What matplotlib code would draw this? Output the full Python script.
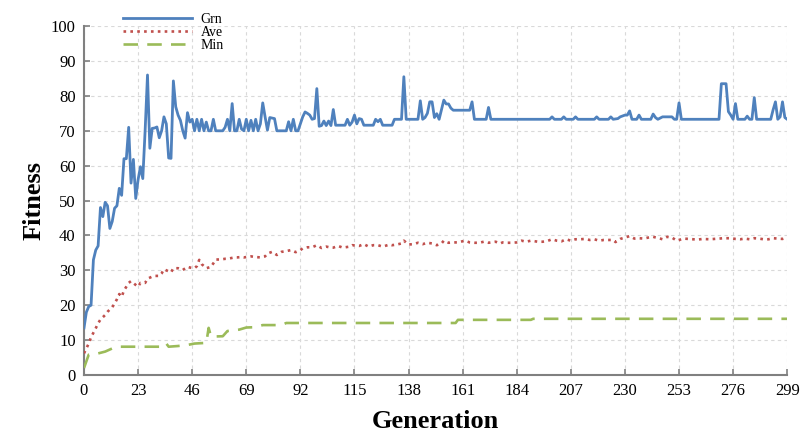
import matplotlib
matplotlib.use("Agg")
import matplotlib.pyplot as plt

# generation / value vertices
grn_gen = [0, 1, 2, 3, 4, 5, 6, 7, 8, 9, 10, 11, 12, 13, 14, 15, 16, 17, 18, 19,
           20, 21, 22, 23, 24, 25, 26, 27, 28, 29, 30, 31, 32, 33, 34, 35, 36, 37, 38, 39,
           40, 41, 42, 43, 44, 45, 46, 47, 48, 49, 50, 51, 52, 53, 54, 55, 56, 59, 60, 61,
           62, 63, 64, 65, 66, 67, 68, 69, 70, 71, 72, 73, 74, 75, 76, 77, 78, 79, 81, 82,
           86, 87, 88, 89, 90, 91, 92, 93, 94, 95, 96, 97, 98, 99, 100, 101, 102, 103, 104, 105,
           106, 107, 111, 112, 113, 114, 115, 116, 117, 118, 119, 123, 124, 125, 126, 127, 131, 132, 135, 136,
           137, 142, 143, 144, 145, 146, 147, 148, 149, 150, 151, 152, 153, 154, 155, 156, 157, 164, 165, 166,
           171, 172, 173, 198, 199, 200, 203, 204, 205, 208, 209, 210, 217, 218, 219, 223, 224, 225, 227, 228,
           230, 231, 232, 233, 235, 236, 237, 241, 242, 243, 244, 246, 250, 251, 252, 253, 254, 270, 271, 273,
           274, 275, 276, 277, 278, 281, 282, 283, 284, 285, 286, 292, 293, 294, 295, 296, 297, 298, 299]
grn_val = [13.5, 18, 19.6, 20, 33, 35.8, 37, 48, 45.4, 49.5, 48.5, 42, 44, 47.8, 48.5, 53.5, 51.5, 62, 62, 71,
           55, 61.8, 50.6, 56, 59.7, 56.3, 70.2, 86, 65, 70.7, 70.8, 71.1, 68, 70, 74, 72,
           62.2, 62.1, 84.3, 76.9, 74.5, 73, 70, 67.9, 75.2, 72.5, 73.3, 70, 73.3, 70, 73.3, 70, 72.5, 70, 70, 73.3,
           70, 70, 71, 73.3,
           70, 77.8, 70, 70, 73.3, 70.5, 70, 73.3, 70, 73, 70, 73.3, 70, 72, 78, 74, 70.2, 73.8, 73.5, 70,
           70, 72.6, 70, 73.3, 70, 70, 72, 74, 75.4, 75, 74.5, 73.3, 73.5, 82.1, 71.3, 71.5, 72.8, 71.5, 72.8, 71.5,
           76.1, 71.6, 71.6, 73.3, 71.6, 72.5, 74.5, 72, 73.5, 73.3, 71.6, 71.6, 73.3, 72.6, 73.3, 71.6, 71.6, 73.3, 73.3, 85.5,
           73.3, 73.3, 78.6, 73.3, 73.8, 75, 78.3, 78.3, 73.8, 74.9, 73.3, 76, 78.8, 77.7, 77.7, 76.5, 75.9, 75.9, 78.3, 73.3,
           73.3, 76.7, 73.3, 73.3, 74, 73.3, 73.3, 74, 73.3, 73.3, 74, 73.3, 73.3, 74, 73.3, 73.3, 74, 73.3, 73.5, 74,
           74.5, 74.5, 75.7, 73.3, 73.3, 74.5, 73.3, 73.3, 74.8, 73.8, 73.3, 74, 74, 73.3, 73.3, 78, 73.3, 73.3, 83.5, 83.5,
           75.5, 74.5, 73.3, 77.8, 73.3, 73.3, 74.2, 73.3, 73.3, 79.5, 73.3, 73.3, 76, 78.3, 73.3, 74, 78.3, 73.8, 73.3]

ave_gen = [0, 1, 2, 3, 4, 5, 6, 7, 9, 10, 11, 12, 13, 14, 15, 16, 17, 18, 19, 20,
           22, 23, 24, 26, 27, 29, 30, 32, 33, 34, 37, 38, 40, 42, 44, 45, 47, 48, 49, 50,
           52, 54, 55, 56, 58, 60, 61, 64, 65, 67, 68, 71, 73, 75, 77, 78, 80, 82, 84, 86,
           88, 90, 92, 93, 95, 97, 99, 101, 103, 105, 106, 108, 110, 113, 114, 117, 119, 121, 123, 125,
           127, 130, 131, 133, 135, 136, 138, 140, 142, 144, 146, 148, 150, 152, 153, 155, 157, 159, 162, 164,
           166, 168, 170, 172, 175, 177, 178, 180, 182, 184, 186, 188, 190, 193, 195, 197, 199, 201, 203, 205,
           207, 209, 211, 213, 215, 217, 219, 221, 223, 225, 226, 228, 230, 232, 234, 236, 238, 240, 242, 245,
           246, 248, 250, 252, 255, 257, 259, 261, 263, 266, 268, 270, 272, 275, 277, 279, 281, 283, 285, 287,
           289, 291, 293, 295, 297, 299]
ave_val = [6.2, 7.6, 9, 10.8, 12.1, 13.4, 14.8, 15.9, 17.2, 18.1, 18.8, 19.4, 20.5, 21.7, 23.2, 22.4, 24.2, 25.3, 26.4, 26.9,
           25.8, 25.3, 26.4, 26.4, 27.6, 28.2, 28.4, 28.4, 29.1, 30.3, 29.4, 30.6, 30.6, 30.1, 31, 30.8, 30.6, 31.2, 33, 31.8,
           30.6, 31, 32, 33.1, 33.1, 33.3, 33.3, 33.7, 33.7, 33.8, 33.7, 34, 33.8, 33.7, 34, 34.8, 35.3, 34.4, 35.3, 35.5,
           35.8, 35.2, 35.8, 36.3, 36.6, 36.6, 37.2, 36.4, 36.8, 36.5, 36.5, 37, 36.5, 36.8, 37.2, 37, 37.5, 36.8, 37.2, 37.2,
           36.8, 37.4, 37.2, 37.4, 37.7, 38.5, 37.4, 37.5, 37.9, 37.5, 37.9, 37.7, 37.2, 37.7, 38.5, 37.9, 38, 38, 38.5, 38,
           37.9, 37.9, 38.2, 37.9, 38.2, 37.7, 38, 37.9, 37.9, 38, 38.5, 38.2, 38.5, 38.2, 38.2, 38.4, 38.9, 38.5, 38.3, 38.9,
           38.5, 38.9, 38.9, 39, 38.7, 38.9, 38.5, 38.7, 38.7, 38.7, 38.1, 39, 39.4, 39.8, 39.1, 39.2, 39.1, 39.4, 39.6, 39.1,
           38.9, 39.6, 39.4, 38.5, 39.1, 39, 38.9, 38.8, 39, 38.9, 39, 39.1, 39.2, 39.2, 39, 38.9, 39.1, 38.9, 39.2, 39.1,
           38.9, 38.9, 39.2, 39.1, 39, 39.4]

min_gen = [0, 2, 5, 9, 12, 14, 34, 35, 36, 40, 44, 47, 52, 53, 54, 59, 61, 66, 69, 73,
           76, 84, 86, 158, 159, 190, 191, 299]
min_val = [2, 5.8, 6, 6.7, 7.6, 8.1, 8.1, 9.0, 8.1, 8.3, 8.6, 9.0, 9.2, 13.5, 11, 11.1, 12.6, 13, 13.6, 13.7,
           14.3, 14.3, 14.9, 14.9, 15.8, 15.8, 16.1, 16.1]

x_ticks = [0, 23, 46, 69, 92, 115, 138, 161, 184, 207, 230, 253, 276, 299]
y_ticks = [0, 10, 20, 30, 40, 50, 60, 70, 80, 90, 100]

plt.rcParams['font.family'] = ['Liberation Serif', 'DejaVu Serif']

fig = plt.figure(figsize=(8, 4.36), dpi=100)
ax = fig.add_axes([0.105, 0.140, 0.879, 0.800])

ax.plot(grn_gen, grn_val, color='#4F81BD', lw=2.0, label='Grn', zorder=3)
ax.plot(ave_gen, ave_val, color='#C0504D', lw=1.9, ls=(0, (1, 1.6)), label='Ave', zorder=3)
ax.plot(min_gen, min_val, color='#9BBB59', lw=1.9, ls=(0, (5.5, 3.5)), label='Min', zorder=3)

ax.set_xlim(0, 299)
ax.set_ylim(0, 100)
ax.set_xticks(x_ticks)
ax.set_yticks(y_ticks)
ax.tick_params(direction='in', length=4, width=1.2, color='#808080', labelsize=12, pad=6)
ax.grid(True, color='#D9D9D9', ls=(0, (3, 3)), lw=0.8)
for s in ['top', 'right']:
    ax.spines[s].set_visible(False)
for s in ['left', 'bottom']:
    ax.spines[s].set_color('#808080')
    ax.spines[s].set_linewidth(1.5)

ax.set_xlabel('Generation', fontsize=19, fontweight='bold', labelpad=8)
ax.set_ylabel('Fitness', fontsize=19, fontweight='bold', labelpad=4)

ax.legend(loc='upper left', bbox_to_anchor=(0.045, 1.058), frameon=False, fontsize=10,
          handlelength=5.0, handletextpad=0.6, labelspacing=0.0, borderpad=0)

fig.savefig('out.png', dpi=100)
